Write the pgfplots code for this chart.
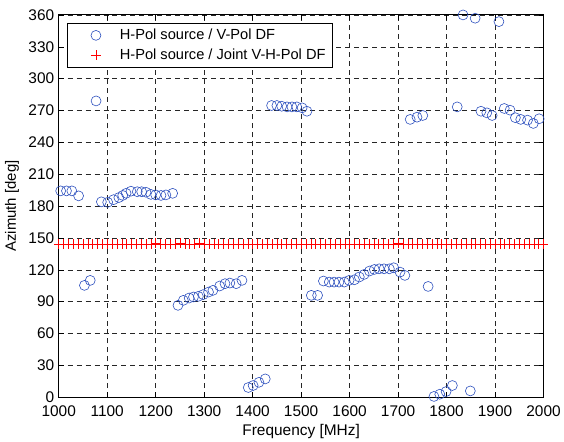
\documentclass[border=0pt]{standalone}
\usepackage{fontspec}
\setmainfont{Liberation Sans}
\usepackage{pgfplots}
\pgfplotsset{compat=1.18}
\definecolor{mblue}{RGB}{45,80,190}
\begin{document}
\begin{tikzpicture}
\begin{axis}[
  scale only axis, width=487pt, height=384pt,
  xmin=1000, xmax=2000, ymin=0, ymax=360,
  xtick={1000,1100,...,2000}, ytick={0,30,...,360},
  font=\fontsize{15}{18}\selectfont,
  tick label style={font=\fontsize{15.5}{18}\selectfont},
  /pgf/number format/assume math mode=true,
  /pgf/number format/1000 sep={},
  grid=major,
  major grid style={black!85, dash pattern=on 5pt off 4pt, line width=0.5pt},
  tick align=inside, tick pos=both, major tick length=5pt,
  tick style={black, line width=0.5pt},
  axis line style={black, line width=0.9pt},
  xlabel={Frequency [MHz]}, ylabel={Azimuth [deg]},
  xlabel style={at={(axis description cs:0.5,0)}, anchor=center, yshift=-34pt, font=\fontsize{15.5}{18}\selectfont},
  ylabel style={at={(axis description cs:0,0.5)}, anchor=center, rotate=0, yshift=47pt, font=\fontsize{15}{18}\selectfont},
  xticklabel style={yshift=-5pt},
  yticklabel style={xshift=-1pt},
  clip=false,
  legend cell align=left,
  legend style={at={(axis description cs:0.0164,0.979)}, anchor=north west,
    draw=black, line width=0.8pt, fill=white, inner xsep=3pt, inner ysep=4pt,
    row sep=4pt, font=\fontsize{14.7}{17}\selectfont,
    nodes={inner xsep=4pt, inner ysep=2pt}},
  legend image code/.code={\path[draw=none] (0pt,0pt) -- (46pt,0pt); \path[#1, draw=none] (0pt,0pt); \draw[#1, mark repeat=1] plot coordinates {(26pt,0pt)};},
]
\addplot[only marks, mark=o, mark size=5pt, draw=mblue, line width=0.6pt] coordinates {
(1004,194.3)(1016,194.3)(1027,194.3)(1041,189.6)
(1053,105.3)(1065,110)(1077,279)
(1088,184)(1101,183.5)(1113,186)(1124,188)(1132,190)(1139,192)(1149,194)(1162,193.5)(1171,193.5)(1180,193)(1190,191)(1200,190.5)(1211,190)(1221,190.5)(1235,192)
(1246,86.5)(1257,91.2)(1269,93.4)(1278,94.4)(1288,95)(1298,96.6)(1309,99)(1318,100.6)(1332,104.7)(1343,106.9)(1353,107.5)(1366,106.9)(1378,110)
(1391,9.1)(1401,11)(1413,14)(1426,17.2)
(1439,274.7)(1450,274.7)(1460,274)(1471,273.4)(1481,273.4)(1491,273.4)(1502,272.5)(1512,269.3)
(1521,95.9)(1534,95.9)(1546,109.4)(1558,108.4)(1568,108.4)(1578,108.4)(1589,108.4)(1599,110)(1610,110.6)(1620,113.2)(1630,115.6)(1641,118.8)(1651,120.3)(1661,120.9)(1671,120.9)(1682,120.9)(1691,121.9)(1704,117.8)(1714,114.7)
(1725,261.6)(1739,263.7)(1751,265.3)(1762,104.3)
(1774,0.7)(1786,2.8)(1799,5.3)(1812,11)(1822,273.4)(1834,360)(1849,5.9)(1859,356.9)
(1871,269.3)(1883,267.8)(1894,265.3)(1908,353.7)(1919,271.9)(1931,270.3)(1942,263.2)(1953,261.6)(1967,260.9)(1979,257.8)(1991,262.2)
};
\addlegendentry{H-Pol source / V-Pol DF}
\addplot[only marks, mark=+, mark size=5pt, draw=red, line width=0.5pt] coordinates {
(1000,144)(1010,144)(1020,144)(1030,144)(1040,144)(1050,144)(1060,144)(1070,144)(1080,144)(1090,144)
(1100,144)(1110,144)(1120,144)(1130,144)(1140,144)(1150,144)(1160,144)(1170,144)(1180,144)(1190,144)
(1200,145)(1210,144)(1220,144)(1230,144)(1240,144)(1250,145)(1260,144)(1270,144)(1280,144)(1290,145)
(1300,144)(1310,144)(1320,144)(1330,144)(1340,144)(1350,144)(1360,144)(1370,144)(1380,144)(1390,144)
(1400,144)(1410,144)(1420,144)(1430,144)(1440,144)(1450,144)(1460,144)(1470,144)(1480,144)(1490,144)
(1500,144)(1510,144)(1520,144)(1530,144)(1540,144)(1550,144)(1560,144)(1570,144)(1580,144)(1590,144)
(1600,144)(1610,144)(1620,144)(1630,144)(1640,144)(1650,144)(1660,144)(1670,144)(1680,144)(1690,144)
(1700,145)(1710,144)(1720,144)(1730,144)(1740,144)(1750,144)(1760,144)(1770,144)(1780,144)(1790,144)
(1800,144)(1810,144)(1820,144)(1830,144)(1840,144)(1850,144)(1860,144)(1870,144)(1880,144)(1890,144)
(1900,144)(1910,144)(1920,144)(1930,144)(1940,144)(1950,144)(1960,144)(1970,144)(1980,144)(1990,144)
(2000,144)
};
\addlegendentry{H-Pol source / Joint V-H-Pol DF}
\end{axis}
\path ([shift={(-59pt,-42pt)}]current axis.south west) rectangle ([shift={(18pt,15pt)}]current axis.north east);
\end{tikzpicture}
\end{document}
